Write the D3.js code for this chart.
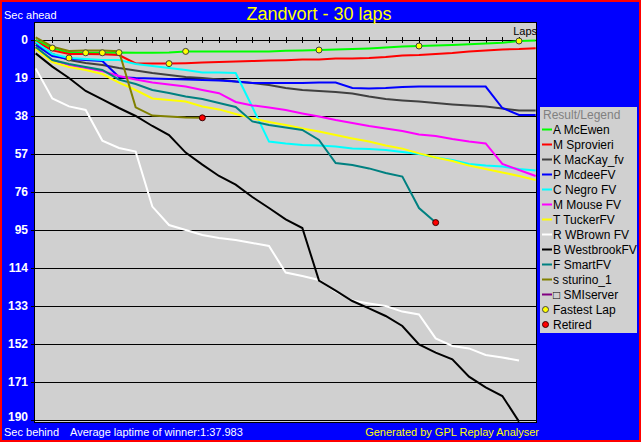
<!DOCTYPE html>
<html><head><meta charset="utf-8">
<script src="https://cdn.jsdelivr.net/npm/d3@7"></script>
<style>html,body{margin:0;padding:0;overflow:hidden;background:#0000ff}svg{display:block}</style>
</head><body>
<svg id="c" width="641" height="442"></svg>
<script>
// ---------------- data ----------------
const chartTitle = "Zandvort - 30 laps";
const totalLaps = 30;
const yTicks = [0, 19, 38, 57, 76, 95, 114, 133, 152, 171, 190];
const legendNames = ["A McEwen", "M Sprovieri", "K MacKay_fv", "P McdeeFV", "C Negro FV", "M Mouse FV",
  "T TuckerFV", "R WBrown FV", "B WestbrookFV", "F SmartFV", "s sturino_1", "\u25A1 SMIserver"];
// seconds behind, one value per lap (index = lap)
const mcEwen = [0, 4, 6.4, 6.4, 6.4, 6.3, 6.4, 6.4, 6.3, 5.7, 5.8, 5.8, 5.8, 5.8, 5.8, 5.4, 5.2, 5.0, 4.7, 4.5, 4.2, 3.8, 3.3, 3.0, 2.8, 2.5, 2.1, 1.8, 1.4, 0.5, 0.3];
const sprovieri = [0.7, 5.2, 7, 7, 7.1, 7.5, 11.7, 11.8, 11.8, 11.6, 11.3, 11, 10.7, 10.5, 10.3, 10.1, 9.8, 9.7, 9.3, 9.2, 9, 8.5, 7.8, 7.5, 7, 6.5, 5.8, 5.2, 4.7, 4.5, 4.1];
const mackay = [1.5, 7, 10, 11.5, 12.5, 14, 15.3, 16.5, 17.5, 18.5, 19, 19.8, 20.8, 21.5, 22.5, 24, 25, 25.5, 26, 26.7, 28.3, 29.5, 30.2, 30.8, 31.5, 32.2, 32.8, 33.3, 34.2, 35.3, 35.3];
const mcdee = [2.5, 8, 9.5, 10, 10.5, 18.5, 19, 19.2, 19.5, 19.8, 20, 20.3, 20.8, 21.5, 21.5, 21.5, 21.5, 21.3, 21.3, 24, 24.2, 24, 23.5, 23.3, 23.3, 23.3, 23.3, 23.3, 34, 37.5, 37.5];
const negro = [1, 7, 9, 9.5, 10, 10, 12, 13, 14, 15, 16.3, 16.3, 16.5, 33.5, 50.8, 51.8, 52.5, 52.8, 53.3, 54.2, 54.5, 55, 56, 57, 58.7, 60, 62, 62.8, 63.3, 64.5, 65.3];
const mouse = [4, 10, 12.5, 14, 15.5, 18, 19.7, 21.2, 22.2, 23.3, 25, 26.6, 31, 32.7, 33.7, 35, 36.7, 38.3, 40, 41.5, 43, 44.2, 45.5, 47.2, 48, 49.5, 50.8, 51.7, 62, 65, 68];
const tucker = [4.5, 11, 13.5, 15, 17, 21.3, 25, 29.2, 30, 30.8, 33.2, 34.7, 37, 39.2, 41, 42.5, 44.2, 45.8, 47.5, 49.2, 50.8, 52.7, 54.3, 56.7, 58.7, 60.5, 62.8, 64.5, 66.2, 68, 70];
const wbrown = [14.2, 29.2, 33.2, 35, 50.3, 54, 55.8, 83.3, 92.5, 95, 97.5, 99, 100, 101.5, 103, 116.3, 118, 120, 125.8, 130.3, 131.7, 133, 135.8, 137.2, 149.2, 153, 154.2, 157.5, 158.7, 160.3];
const westbrook = [6.7, 13.3, 19, 25.5, 29.7, 34, 38, 43, 47.5, 56.3, 62.3, 68, 72.3, 78.5, 84, 89.7, 94, 120.3, 125.3, 130.5, 134.2, 138, 143, 152.2, 156.3, 159.7, 168.3, 173.7, 178, 190.8];
const smart = [3.5, 10, 12, 13.5, 15, 19.8, 22, 25, 26.5, 28.2, 29.5, 31.5, 33.5, 40.7, 42.5, 43.8, 45, 50, 61.5, 62.5, 64.2, 66.5, 68.3, 84, 91.3];
const sturino = [-1.3, 3.3, 5.5, 5.3, 5.3, 5.6, 33.7, 37.8, 38.2, 38.7, 38.9];
const smiserver = [];
const allSeries = [mcEwen, sprovieri, mackay, mcdee, negro, mouse, tucker, wbrown, westbrook, smart, sturino, smiserver];
// fastest-lap markers: lap and which driver (index into allSeries)
const fastestLapLaps = [1, 2, 3, 4, 5, 8, 9, 17, 23, 29];
const fastestLapDriver = [0, 4, 0, 0, 0, 1, 0, 0, 0, 0];
// retired drivers (marker at their last lap)
const retiredDriver = [10, 9];
const bottomLeft = "Sec behind";
const avgText = "Average laptime of winner:1:37.983";
const generatedText = "Generated by GPL Replay Analyser";

// ---------------- styles ----------------
const seriesColors = ["#00ff00", "#ff0000", "#404040", "#0000ff", "#00ffff", "#ff00ff", "#ffff00", "#ffffff", "#000000", "#008080", "#808000", "#800080"];
const FONT = "'Liberation Sans', Arial, sans-serif";
const plotBg = "#d0d0d0";

const svg = d3.select("#c");
const W = 641, H = 442;
const P = {l: 34, t: 22, r: 537, b: 423};

// background + red border
svg.append("rect").attr("x", 0).attr("y", 0).attr("width", W).attr("height", H).attr("fill", "#ff0000");
svg.append("rect").attr("x", 2).attr("y", 2).attr("width", W - 4).attr("height", H - 4).attr("fill", "#0000ff");

// plot area
svg.append("rect").attr("x", P.l).attr("y", P.t).attr("width", P.r - P.l).attr("height", P.b - P.t).attr("fill", plotBg);

const x = d3.scaleLinear().domain([0, totalLaps]).range([35.67, 535.67]);
const y = d3.scaleLinear().domain([0, 190]).range([40, 420]);

// gridlines
svg.append("g").selectAll("line").data(yTicks).join("line")
  .attr("x1", P.l - 3).attr("x2", P.r)
  .attr("y1", d => Math.round(y(d)) + 0.5).attr("y2", d => Math.round(y(d)) + 0.5)
  .attr("stroke", "#000").attr("stroke-width", 1).attr("shape-rendering", "crispEdges");

// lap ticks on zero line
svg.append("g").selectAll("line").data(d3.range(1, totalLaps + 1)).join("line")
  .attr("x1", d => Math.round(x(d)) + 0.5).attr("x2", d => Math.round(x(d)) + 0.5)
  .attr("y1", y(0) - 3).attr("y2", y(0) + 3)
  .attr("stroke", "#000").attr("stroke-width", 1).attr("shape-rendering", "crispEdges");

// y labels (last one nudged up so it stays clear of the bottom caption)
svg.append("g").selectAll("text").data(yTicks).join("text")
  .attr("x", 28).attr("y", d => Math.min(y(d), 417)).attr("dy", "0.36em")
  .attr("text-anchor", "end").attr("fill", "#fff")
  .attr("font-family", FONT).attr("font-size", 12).attr("font-weight", "bold")
  .text(d => d);

// clip
svg.append("clipPath").attr("id", "clip").append("rect")
  .attr("x", P.l + 1).attr("y", P.t + 1).attr("width", P.r - P.l - 1).attr("height", P.b - P.t - 1);

const line = d3.line().x((d, i) => x(i)).y(d => y(d));
const gLines = svg.append("g").attr("clip-path", "url(#clip)");
allSeries.forEach((s, i) => {
  if (!s.length) return;
  gLines.append("path").attr("d", line(s)).attr("fill", "none")
    .attr("stroke", seriesColors[i]).attr("stroke-width", 2).attr("stroke-linejoin", "miter");
});

// fastest lap markers
fastestLapLaps.forEach((lap, k) => {
  const s = allSeries[fastestLapDriver[k]];
  gLines.append("circle").attr("cx", x(lap)).attr("cy", y(s[lap])).attr("r", 3)
    .attr("fill", "#ffff00").attr("stroke", "#404040").attr("stroke-width", 1);
});
// retired markers
retiredDriver.forEach(di => {
  const s = allSeries[di];
  const lap = s.length - 1;
  gLines.append("circle").attr("cx", x(lap)).attr("cy", y(s[lap])).attr("r", 3)
    .attr("fill", "#ff0000").attr("stroke", "#400000").attr("stroke-width", 1);
});

// plot border
svg.append("rect").attr("x", P.l + 0.5).attr("y", P.t + 0.5).attr("width", P.r - P.l - 1).attr("height", P.b - P.t - 1)
  .attr("fill", "none").attr("stroke", "#000").attr("stroke-width", 1);

// texts
svg.append("text").attr("x", 319).attr("y", 20).attr("text-anchor", "middle").attr("fill", "#ffff00")
  .attr("font-family", FONT).attr("font-size", 18).text(chartTitle);
svg.append("text").attr("x", 4).attr("y", 19).attr("fill", "#fff")
  .attr("font-family", FONT).attr("font-size", 11).text("Sec ahead");
svg.append("text").attr("x", 537).attr("y", 35).attr("text-anchor", "end").attr("fill", "#000")
  .attr("font-family", FONT).attr("font-size", 11).text("Laps");
svg.append("text").attr("x", 4).attr("y", 436).attr("fill", "#fff")
  .attr("font-family", FONT).attr("font-size", 11).text(bottomLeft);
svg.append("text").attr("x", 70).attr("y", 436).attr("fill", "#fff")
  .attr("font-family", FONT).attr("font-size", 11).text(avgText);
svg.append("text").attr("x", 539).attr("y", 436).attr("text-anchor", "end").attr("fill", "#ffff00")
  .attr("font-family", FONT).attr("font-size", 11).text(generatedText);

// legend
const L = {x: 540, y: 107, w: 97, h: 226};
const lg = svg.append("g");
lg.append("rect").attr("x", L.x).attr("y", L.y).attr("width", L.w).attr("height", L.h).attr("fill", plotBg);
lg.append("text").attr("x", 543).attr("y", 119).attr("fill", "#808080")
  .attr("font-family", FONT).attr("font-size", 12).text("Result/Legend");
const rowY = i => 129.5 + 15 * i;
legendNames.forEach((n, i) => {
  lg.append("line").attr("x1", 542).attr("x2", 552).attr("y1", rowY(i)).attr("y2", rowY(i))
    .attr("stroke", seriesColors[i]).attr("stroke-width", 2);
  lg.append("text").attr("x", 553).attr("y", rowY(i)).attr("dy", "0.36em").attr("fill", "#000")
    .attr("font-family", FONT).attr("font-size", 12).text(n);
});
const nL = legendNames.length;
lg.append("circle").attr("cx", 545.5).attr("cy", rowY(nL)).attr("r", 3)
  .attr("fill", "#ffff00").attr("stroke", "#404040");
lg.append("text").attr("x", 553).attr("y", rowY(nL)).attr("dy", "0.36em").attr("fill", "#000")
  .attr("font-family", FONT).attr("font-size", 12).text("Fastest Lap");
lg.append("circle").attr("cx", 545.5).attr("cy", rowY(nL + 1)).attr("r", 3)
  .attr("fill", "#ff0000").attr("stroke", "#400000");
lg.append("text").attr("x", 553).attr("y", rowY(nL + 1)).attr("dy", "0.36em").attr("fill", "#000")
  .attr("font-family", FONT).attr("font-size", 12).text("Retired");
</script>
</body></html>
